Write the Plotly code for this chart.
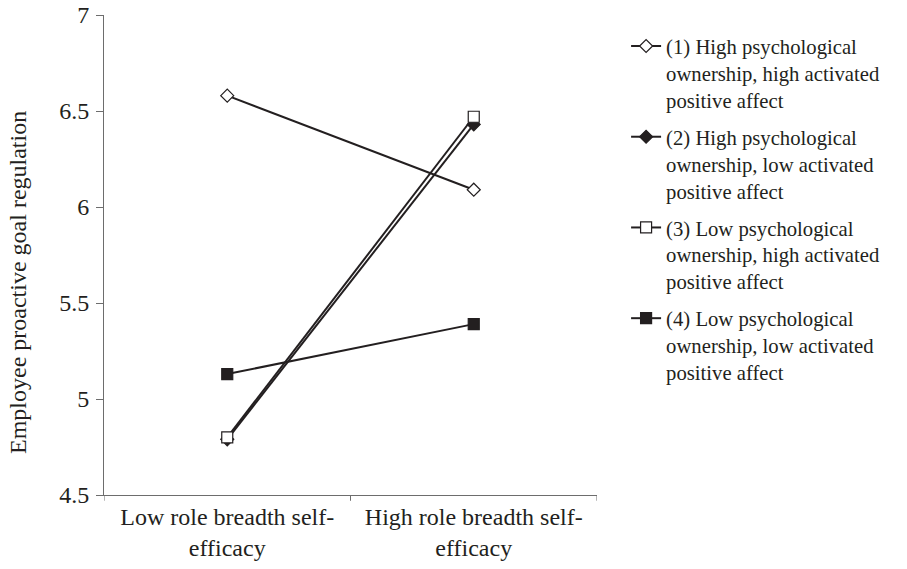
import plotly.graph_objects as go

categories = ["Low role breadth self-<br>efficacy", "High role breadth self-<br>efficacy"]
series_names = [
    "(1) High psychological<br>ownership, high activated<br>positive affect",
    "(2) High psychological<br>ownership, low activated<br>positive affect",
    "(3) Low psychological<br>ownership, high activated<br>positive affect",
    "(4) Low psychological<br>ownership, low activated<br>positive affect",
]
series_values = [
    [6.58, 6.09],
    [4.79, 6.43],
    [4.80, 6.47],
    [5.13, 5.39],
]
marker_symbols = ["diamond", "diamond", "square", "square"]
marker_fills = ["white", "#231f20", "white", "#231f20"]
marker_sizes = [10, 10, 11, 11]

INK = "#231f20"
AXIS = "#6d6d6d"
FONT = "Liberation Serif, Times New Roman, serif"

fig = go.Figure()
for i, (name, vals) in enumerate(zip(series_names, series_values)):
    fig.add_trace(go.Scatter(
        x=[0, 1], y=vals, name=name, mode="lines+markers",
        line=dict(color=INK, width=2),
        marker=dict(symbol=marker_symbols[i], size=marker_sizes[i],
                    color=marker_fills[i], line=dict(color=INK, width=1.2)),
        legendgroup=f"g{i}",
    ))

fig.update_layout(
    width=907, height=569,
    margin=dict(l=104, r=310, t=15, b=74),
    paper_bgcolor="white", plot_bgcolor="white",
    font=dict(family=FONT, size=24, color=INK),
    showlegend=True,
    legend=dict(
        x=1.059, y=0.977, xanchor="left", yanchor="top", valign="top",
        font=dict(family=FONT, size=20.7, color=INK),
        tracegroupgap=7, itemsizing="trace", bgcolor="rgba(0,0,0,0)",
    ),
    xaxis=dict(
        range=[-0.5, 1.5], tickvals=[0, 1], ticktext=categories,
        showgrid=False, zeroline=False, showline=True, linecolor=AXIS, linewidth=1,
        ticks="", ticklabelstandoff=0, automargin=False,
        tickfont=dict(family=FONT, size=24, color=INK),
    ),
    yaxis=dict(
        range=[4.5, 7], tickvals=[4.5, 5, 5.5, 6, 6.5, 7],
        ticktext=["4.5", "5", "5.5", "6", "6.5", "7"],
        showgrid=False, zeroline=False, showline=True, linecolor=AXIS, linewidth=1,
        ticks="outside", ticklen=7, tickcolor=AXIS, ticklabelstandoff=2, automargin=False,
        tickfont=dict(family=FONT, size=24, color=INK),
    ),
)

# y-axis title, placed as rotated text beside the tick labels
fig.add_annotation(
    text="Employee proactive goal regulation", textangle=-90,
    xref="paper", yref="paper", x=-(104 - 18) / 493, y=(495 - 283) / 480,
    xanchor="center", yanchor="middle", showarrow=False,
    font=dict(family=FONT, size=24, color=INK),
)

# category boundary ticks on the x axis
for xv in [-0.5, 0.5, 1.5]:
    fig.add_shape(type="line", xref="x", yref="paper", x0=xv, x1=xv, y0=0, y1=-0.012,
                  line=dict(color=AXIS, width=1))

fig.write_html("out.html")
